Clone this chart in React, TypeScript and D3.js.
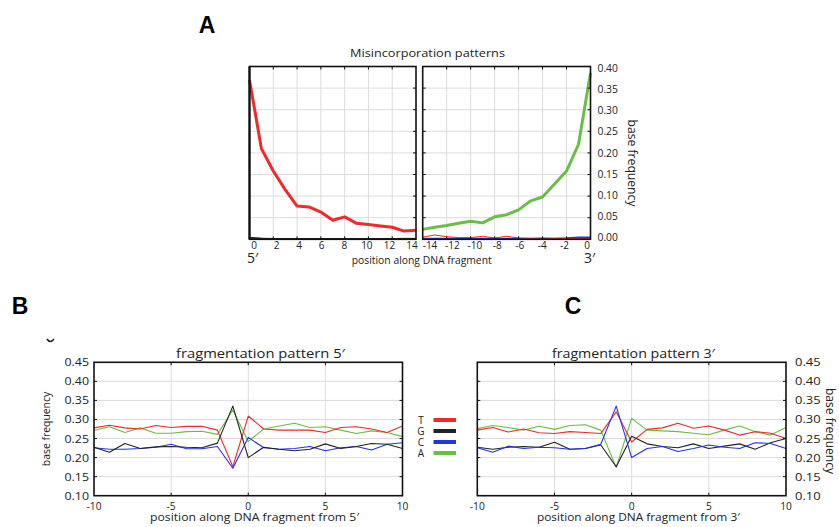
import React from 'react';
import * as d3 from 'd3';

const RED = '#ee2a2a';
const GREEN = '#6abd45';
const BLUE = '#2233ee';
const BLACK = '#222222';
const FONT = "'Open Sans', 'DejaVu Sans', sans-serif";

// Panel A: misincorporation patterns
const posA5 = [0, 1, 2, 3, 4, 5, 6, 7, 8, 9, 10, 11, 12, 13, 14];
const a5T = [0.369, 0.21, 0.158, 0.115, 0.077, 0.075, 0.063, 0.044, 0.052, 0.037, 0.034, 0.031, 0.028, 0.019, 0.021];
const a5A = [0.001, 0.001, 0.001, 0.001, 0.001, 0.001, 0.001, 0.001, 0.001, 0.001, 0.001, 0.001, 0.001, 0.002, 0.002];
const a5C = [0.004, 0.002, 0.001, 0.001, 0.001, 0.001, 0.001, 0.001, 0.001, 0.001, 0.001, 0.001, 0.001, 0.001, 0.001];
const a5G = [0.003, 0.002, 0.001, 0.001, 0.001, 0.001, 0.001, 0.001, 0.001, 0.001, 0.001, 0.001, 0.001, 0.001, 0.001];

const posA3 = [-14, -13, -12, -11, -10, -9, -8, -7, -6, -5, -4, -3, -2, -1, 0];
const a3A = [0.023, 0.028, 0.032, 0.037, 0.042, 0.038, 0.052, 0.057, 0.068, 0.089, 0.098, 0.128, 0.158, 0.22, 0.385];
const a3T = [0.005, 0.01, 0.006, 0.004, 0.004, 0.007, 0.003, 0.007, 0.003, 0.002, 0.003, 0.002, 0.002, 0.002, 0.001];
const a3C = [0.002, 0.002, 0.002, 0.002, 0.002, 0.002, 0.002, 0.002, 0.002, 0.002, 0.002, 0.002, 0.003, 0.005, 0.005];
const a3G = [0.001, 0.001, 0.001, 0.001, 0.001, 0.001, 0.001, 0.001, 0.001, 0.001, 0.001, 0.001, 0.001, 0.001, 0.001];

const ticksA5 = [0, 2, 4, 6, 8, 10, 12, 14];
const ticksA3 = [-14, -12, -10, -8, -6, -4, -2, 0];
const ticksAY = [0, 0.05, 0.1, 0.15, 0.2, 0.25, 0.3, 0.35, 0.4];

// Panels B and C: fragmentation patterns
const posF = [-10, -9, -8, -7, -6, -5, -4, -3, -2, -1, 0, 1, 2, 3, 4, 5, 6, 7, 8, 9, 10];
const fbT = [0.278, 0.285, 0.278, 0.275, 0.284, 0.279, 0.282, 0.282, 0.272, 0.176, 0.309, 0.275, 0.272, 0.272, 0.272, 0.266, 0.279, 0.281, 0.275, 0.266, 0.283];
const fbA = [0.271, 0.281, 0.266, 0.278, 0.264, 0.264, 0.268, 0.269, 0.261, 0.325, 0.242, 0.275, 0.283, 0.29, 0.279, 0.281, 0.272, 0.263, 0.27, 0.266, 0.255];
const fbC = [0.226, 0.222, 0.222, 0.224, 0.227, 0.235, 0.223, 0.223, 0.229, 0.172, 0.253, 0.226, 0.222, 0.224, 0.229, 0.218, 0.226, 0.229, 0.22, 0.235, 0.239];
const fbG = [0.227, 0.214, 0.237, 0.224, 0.228, 0.229, 0.227, 0.226, 0.238, 0.335, 0.2, 0.227, 0.222, 0.218, 0.222, 0.236, 0.224, 0.229, 0.237, 0.235, 0.224];

const fcA = [0.276, 0.284, 0.279, 0.272, 0.282, 0.274, 0.284, 0.286, 0.272, 0.174, 0.303, 0.272, 0.27, 0.268, 0.264, 0.26, 0.272, 0.283, 0.268, 0.259, 0.279];
const fcT = [0.272, 0.279, 0.267, 0.275, 0.265, 0.263, 0.268, 0.266, 0.263, 0.32, 0.241, 0.274, 0.278, 0.29, 0.277, 0.283, 0.272, 0.259, 0.268, 0.264, 0.25];
const fcG = [0.227, 0.222, 0.227, 0.229, 0.227, 0.24, 0.222, 0.224, 0.233, 0.176, 0.256, 0.236, 0.229, 0.226, 0.236, 0.224, 0.23, 0.236, 0.222, 0.239, 0.25];
const fcC = [0.226, 0.214, 0.23, 0.224, 0.227, 0.226, 0.222, 0.224, 0.235, 0.335, 0.2, 0.224, 0.229, 0.216, 0.224, 0.233, 0.227, 0.224, 0.239, 0.237, 0.224];

const ticksFX = [-10, -5, 0, 5, 10];
const ticksFY = [0.1, 0.15, 0.2, 0.25, 0.3, 0.35, 0.4, 0.45];

const legendBases = ['T', 'G', 'C', 'A'];
const legendColors = [RED, BLACK, BLUE, GREEN];

type Scale = d3.ScaleLinear<number, number>;

function T({ x, y, size, sx = 1, anchor = 'start', len, rotate = 0, children }: any) {
  return (
    <text
      transform={`translate(${x},${y}) rotate(${rotate}) scale(${sx},1)`}
      fontSize={size}
      textAnchor={anchor}
      fontFamily={FONT}
      fill="#222"
      textLength={len}
      lengthAdjust={len ? 'spacingAndGlyphs' : undefined}
    >
      {children}
    </text>
  );
}

function Line({ xs, ys, x, y, color, width }: { xs: number[]; ys: number[]; x: Scale; y: Scale; color: string; width: number }) {
  const gen = d3.line<number>().x((_, i) => x(xs[i])).y((d) => y(d));
  return <path d={gen(ys) || ''} fill="none" stroke={color} strokeWidth={width} strokeLinejoin="round" />;
}

function Grid({ x, y, xt, yt }: { x: Scale; y: Scale; xt: number[]; yt: number[] }) {
  const [x0, x1] = x.range();
  const [y0, y1] = y.range();
  return (
    <g stroke="#dcdcdc" strokeWidth={1}>
      {xt.map((t) => (
        <line key={'gx' + t} x1={x(t)} x2={x(t)} y1={y0} y2={y1} />
      ))}
      {yt.map((t) => (
        <line key={'gy' + t} x1={x0} x2={x1} y1={y(t)} y2={y(t)} />
      ))}
    </g>
  );
}

function Frame({ x, y, xt, yt, tl = 3, sides = 'lrtb' }: { x: Scale; y: Scale; xt: number[]; yt: number[]; tl?: number; sides?: string }) {
  const [x0, x1] = x.range();
  const [y0, y1] = y.range();
  return (
    <g stroke="#111" fill="none">
      <rect x={x0} y={y1} width={x1 - x0} height={y0 - y1} strokeWidth={1.6} />
      {xt.map((t) => (
        <g key={'tx' + t} strokeWidth={1}>
          <line x1={x(t)} x2={x(t)} y1={y1} y2={y1 + tl} />
          <line x1={x(t)} x2={x(t)} y1={y0} y2={y0 - tl} />
        </g>
      ))}
      {yt.map((t) => (
        <g key={'ty' + t} strokeWidth={1}>
          {sides.includes('l') && <line x1={x0} x2={x0 + tl} y1={y(t)} y2={y(t)} />}
          {sides.includes('r') && <line x1={x1} x2={x1 - tl} y1={y(t)} y2={y(t)} />}
        </g>
      ))}
    </g>
  );
}

function FragPanel({ x, y, series, title, titleX, titleLen, xlabel, xlabelX, xlabelLen, side }: any) {
  const [x0, x1] = x.range();
  const gridY = ticksFY.slice(1, -1);
  return (
    <g>
      <Grid x={x} y={y} xt={[-5, 0, 5]} yt={gridY} />
      {series.map((s: any, i: number) => (
        <Line key={i} xs={posF} ys={s.v} x={x} y={y} color={s.c} width={1.1} />
      ))}
      <Frame x={x} y={y} xt={[-5, 0, 5]} yt={gridY} />
      {ticksFY.map((t) => (
        <T key={t} x={side === 'left' ? x0 - 5 : x1 + 9} y={y(t) + 4} size={10.8} sx={side === 'left' ? 1.15 : 1.2} anchor={side === 'left' ? 'end' : 'start'}>
          {t.toFixed(2)}
        </T>
      ))}
      {ticksFX.map((t) => (
        <T key={'x' + t} x={x(t)} y={510} size={10.2} anchor="middle">
          {t}
        </T>
      ))}
      <T x={titleX} y={358} size={13} anchor="middle" len={titleLen}>
        {title}
      </T>
      <T x={xlabelX} y={521} size={11} anchor="middle" len={xlabelLen}>
        {xlabel}
      </T>
      {side === 'left' ? (
        <T x={x0 - 44} y={429} size={10.4} anchor="middle" rotate={-90}>
          base frequency
        </T>
      ) : (
        <T x={x1 + 39.5} y={431} size={12.4} anchor="middle" rotate={90} len={86}>
          base frequency
        </T>
      )}
    </g>
  );
}

export default function App() {
  const yA = d3.scaleLinear().domain([0, 0.4]).range([239.3, 66.5]);
  const xA5 = d3.scaleLinear().domain([0, 14]).range([249.5, 416]);
  const xA3 = d3.scaleLinear().domain([-14, 0]).range([422.7, 590.5]);
  const lblA5 = d3.scaleLinear().domain([0, 14]).range([254, 412]);
  const lblA3 = d3.scaleLinear().domain([-14, 0]).range([430, 587]);
  const lblAY = d3.scaleLinear().domain([0, 0.4]).range([237, 68.5]);
  const gridAY = ticksAY.slice(1, -1);

  const yF = d3.scaleLinear().domain([0.1, 0.45]).range([495.7, 362.3]);
  const xB = d3.scaleLinear().domain([-10, 10]).range([94, 402.5]);
  const xC = d3.scaleLinear().domain([-10, 10]).range([477.3, 786]);

  return (
    <svg width={839} height={527} style={{ position: 'absolute', left: 0, top: 0, background: '#fff' }}>
      <rect width={839} height={527} fill="#fff" />

      {/* Panel labels */}
      <g fontFamily="'Liberation Sans', Arial, sans-serif" fontWeight="bold" fontSize={23} fill="#000">
        <text x={207} y={33} textAnchor="middle">A</text>
        <text x={20} y={314} textAnchor="middle">B</text>
        <text x={573} y={314} textAnchor="middle">C</text>
      </g>

      {/* Panel A */}
      <Grid x={xA5} y={yA} xt={ticksA5.slice(1, -1)} yt={gridAY} />
      <Grid x={xA3} y={yA} xt={ticksA3.slice(1, -1)} yt={gridAY} />
      <Line xs={posA5} ys={a5A} x={xA5} y={yA} color={GREEN} width={1.5} />
      <Line xs={posA5} ys={a5C} x={xA5} y={yA} color={BLUE} width={1.5} />
      <Line xs={posA5} ys={a5G} x={xA5} y={yA} color={BLACK} width={1.5} />
      <Line xs={posA5} ys={a5T} x={xA5} y={yA} color={RED} width={3} />
      <Line xs={posA3} ys={a3G} x={xA3} y={yA} color={BLACK} width={1} />
      <Line xs={posA3} ys={a3C} x={xA3} y={yA} color={BLUE} width={1.5} />
      <Line xs={posA3} ys={a3T} x={xA3} y={yA} color={RED} width={1} />
      <Line xs={posA3} ys={a3A} x={xA3} y={yA} color={GREEN} width={3} />
      <Frame x={xA5} y={yA} xt={ticksA5.slice(1, -1)} yt={gridAY} sides="r" />
      <Frame x={xA3} y={yA} xt={ticksA3.slice(1, -1)} yt={gridAY} sides="lr" />
      <line x1={249.5} x2={249.5} y1={66.5} y2={239.3} stroke="#111" strokeWidth={2.2} />

      {ticksA5.map((t) => (
        <T key={'a5' + t} x={lblA5(t)} y={249} size={10} anchor="middle">{t}</T>
      ))}
      {ticksA3.map((t) => (
        <T key={'a3' + t} x={lblA3(t)} y={249} size={10} anchor="middle">{t}</T>
      ))}
      {ticksAY.map((t) => (
        <T key={'ay' + t} x={597.5} y={lblAY(t) + 3.8} size={10.3}>{t.toFixed(2)}</T>
      ))}
      <T x={628} y={163} size={12.8} anchor="middle" rotate={90} len={87}>base frequency</T>
      <T x={427.5} y={57} size={11.5} anchor="middle" len={155}>Misincorporation patterns</T>
      <T x={421.7} y={264} size={10} anchor="middle" len={140}>position along DNA fragment</T>
      <T x={247} y={263} size={14}>5′</T>
      <T x={584} y={263} size={14}>3′</T>

      {/* small cropped glyph above panel B */}
      <path d="M47,339 Q50,344 54,339" fill="none" stroke="#222" strokeWidth={1.6} />

      {/* Panel B */}
      <FragPanel
        x={xB}
        y={yF}
        side="left"
        title="fragmentation pattern 5′"
        titleX={260.5}
        titleLen={169}
        xlabel="position along DNA fragment from 5′"
        xlabelX={254.5}
        xlabelLen={209}
        series={[
          { v: fbA, c: GREEN },
          { v: fbT, c: RED },
          { v: fbC, c: BLUE },
          { v: fbG, c: BLACK },
        ]}
      />

      {/* Panel C */}
      <FragPanel
        x={xC}
        y={yF}
        side="right"
        title="fragmentation pattern 3′"
        titleX={633.4}
        titleLen={163}
        xlabel="position along DNA fragment from 3′"
        xlabelX={638.4}
        xlabelLen={203}
        series={[
          { v: fcA, c: GREEN },
          { v: fcT, c: RED },
          { v: fcG, c: BLACK },
          { v: fcC, c: BLUE },
        ]}
      />

      {/* Legend */}
      <g>
        {legendBases.map((b, i) => (
          <g key={b}>
            <T x={421} y={423.6 + i * 11} size={10} anchor="middle">{b}</T>
            <line x1={433.5} x2={456} y1={420 + i * 11} y2={420 + i * 11} stroke={legendColors[i]} strokeWidth={4} />
          </g>
        ))}
      </g>
    </svg>
  );
}
